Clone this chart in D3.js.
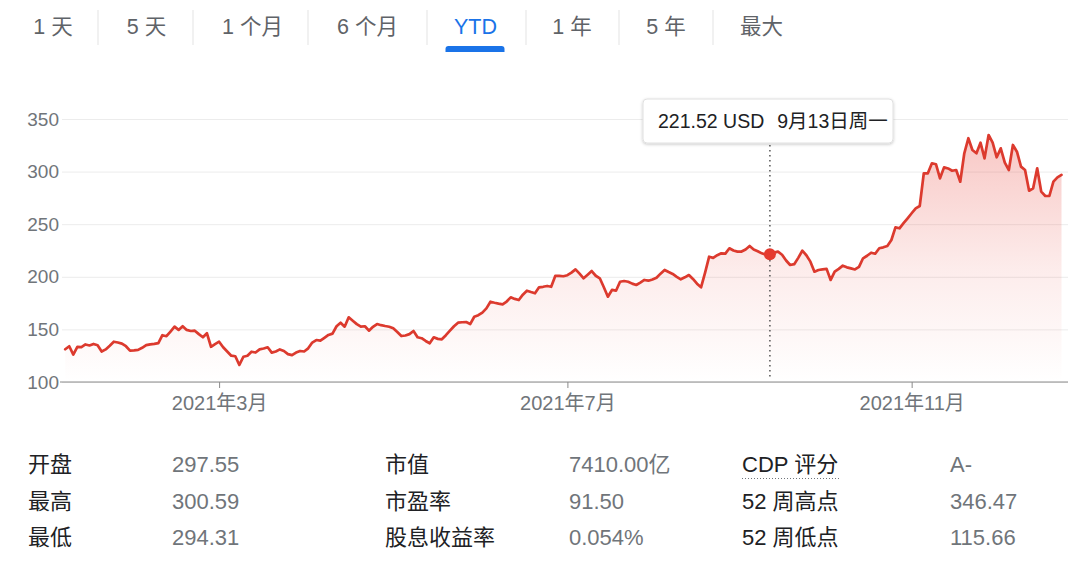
<!DOCTYPE html>
<html>
<head>
<meta charset="utf-8">
<script src="https://cdn.jsdelivr.net/npm/d3@7"></script>
<style>
  html, body { margin: 0; padding: 0; background: #fff; }
  svg { display: block; font-family: "Liberation Sans", Arial, "Noto Sans CJK SC", sans-serif; }
</style>
</head>
<body>
<svg id="chart" width="1080" height="569"></svg>
<script>
// ---------- DATA ----------
const tabs = ["1 天", "5 天", "1 个月", "6 个月", "YTD", "1 年", "5 年", "最大"];
const activeTab = "YTD";

const startDate = "2021-01-04";
const endDate = "2021-12-23";
const holidays = ["2021-01-18", "2021-02-15", "2021-04-02", "2021-05-31", "2021-07-05", "2021-09-06", "2021-11-25"];

// daily close (USD), one per trading day
const closes = [
  131.1, 134.0, 126.1, 133.4, 133.2, 135.7, 134.7, 136.2, 135.0, 129.0,
  131.0, 134.5, 138.3, 137.5, 136.5, 134.0, 129.8, 130.0, 130.5, 132.5,
  135.0, 135.8, 136.2, 137.0, 144.5, 143.5, 148.0, 152.6, 149.5, 153.0,
  149.5, 148.5, 148.8, 145.5, 142.5, 146.3, 133.5, 136.0, 138.3, 133.0,
  129.0, 125.0, 124.5, 116.2, 124.0, 125.0, 128.8, 128.0, 131.0, 131.8,
  133.0, 127.9, 129.0, 131.0, 129.5, 126.5, 125.5, 128.0, 129.5, 129.0,
  132.0, 137.5, 139.9, 139.3, 142.0, 144.7, 146.0, 153.0, 156.4, 152.6,
  161.5, 158.3, 155.0, 152.6, 153.0, 148.8, 152.5, 155.1, 154.0, 153.2,
  152.5, 151.0, 147.5, 143.7, 144.2, 145.5, 148.5, 142.5, 141.6, 139.0,
  136.8, 142.5, 141.0, 140.6, 144.5, 148.8, 153.0, 156.4, 156.8, 157.0,
  155.1, 162.0, 163.5, 166.0, 170.0, 176.3, 175.3, 174.5, 173.8, 176.5,
  180.5, 179.0, 177.9, 183.0, 186.8, 185.5, 184.3, 190.0, 190.5, 191.3,
  190.5, 200.8, 200.8, 200.5, 201.5, 204.0, 207.1, 203.0, 198.6, 202.0,
  205.5, 201.0, 198.6, 190.0, 181.1, 187.5, 186.8, 195.3, 196.0, 195.3,
  193.5, 192.2, 194.5, 197.0, 196.3, 197.5, 199.1, 203.0, 206.5, 204.5,
  202.7, 200.0, 197.6, 199.5, 201.7, 198.0, 193.5, 190.0, 204.0, 219.1,
  218.0, 220.5, 222.3, 222.0, 227.1, 225.0, 223.9, 224.0, 226.0, 229.3,
  226.0, 224.3, 222.3, 221.0, 221.52, 223.0, 223.9, 221.0, 215.5, 211.2,
  212.0, 218.0, 224.8, 220.5, 214.4, 204.9, 206.5, 207.1, 207.5, 197.0,
  204.9, 207.5, 210.6, 209.0, 208.0, 207.0, 209.5, 217.6, 220.0, 222.9,
  221.9, 227.1, 228.0, 229.3, 235.0, 247.0, 246.1, 251.0, 255.6, 260.4,
  265.1, 267.3, 298.4, 298.4, 307.9, 307.0, 293.6, 304.0, 303.0, 300.8,
  301.5, 290.4, 317.4, 331.7, 320.5, 317.4, 327.5, 312.6, 334.8, 327.5,
  313.6, 322.1, 308.5, 301.5, 325.3, 318.9, 304.7, 301.5, 281.8, 284.1,
  303.1, 280.9, 276.8, 276.8, 290.4, 294.5, 296.8
];

const yTicks = [100, 150, 200, 250, 300, 350];
const xTickDates = ["2021-03-01", "2021-07-01", "2021-11-01"];
const xTickLabels = ["2021年3月", "2021年7月", "2021年11月"];

const hoverDate = "2021-09-13";
const hoverDateLabel = "9月13日周一";
const currency = "USD";

const statLabels1 = ["开盘", "最高", "最低"];
const statValues1 = ["297.55", "300.59", "294.31"];
const statLabels2 = ["市值", "市盈率", "股息收益率"];
const statValues2 = ["7410.00亿", "91.50", "0.054%"];
const statLabels3 = ["CDP 评分", "52 周高点", "52 周低点"];
const statValues3 = ["A-", "346.47", "115.66"];

// ---------- BUILD TRADING CALENDAR ----------
const fmt = d3.timeFormat("%Y-%m-%d");
const parse = d3.timeParse("%Y-%m-%d");
const tradingDays = d3.timeDay.range(parse(startDate), d3.timeDay.offset(parse(endDate), 1))
  .filter(d => d.getDay() !== 0 && d.getDay() !== 6 && !holidays.includes(fmt(d)))
  .map(fmt);
const data = tradingDays.map((d, i) => ({ date: d, value: closes[i] })).filter(d => d.value != null);

// ---------- LAYOUT ----------
const svg = d3.select("#chart");
const plotLeft = 62, plotRight = 1068;
const lineLeft = 65.2, lineRight = 1061.5;
const yTop = 119, yBottom = 382;

const x = d3.scalePoint().domain(data.map(d => d.date)).range([lineLeft, lineRight]);
const y = d3.scaleLinear().domain([100, 350]).range([yBottom, yTop]);

// ---------- TABS ----------
const tabCenters = [53, 146.5, 252.5, 367.5, 475.5, 572, 666, 761.5];
const sepX = [98, 193, 308, 427, 526, 619, 713];
const tabG = svg.append("g");
tabG.selectAll("text").data(tabs).join("text")
  .attr("x", (d, i) => tabCenters[i])
  .attr("y", 34)
  .attr("text-anchor", "middle")
  .attr("font-size", 21.5)
  .attr("fill", d => d === activeTab ? "#1a73e8" : "#5f6368")
  .text(d => d);
tabG.selectAll("line").data(sepX).join("line")
  .attr("x1", d => d).attr("x2", d => d)
  .attr("y1", 10).attr("y2", 45)
  .attr("stroke", "#e3e3e3").attr("stroke-width", 1);
const ai = tabs.indexOf(activeTab);
const ux0 = tabCenters[ai] - 30, ux1 = tabCenters[ai] + 29, uy0 = 46, uy1 = 52, r = 3;
tabG.append("path")
  .attr("d", `M${ux0},${uy1} L${ux0},${uy0 + r} Q${ux0},${uy0} ${ux0 + r},${uy0} L${ux1 - r},${uy0} Q${ux1},${uy0} ${ux1},${uy0 + r} L${ux1},${uy1} Z`)
  .attr("fill", "#1a73e8");

// ---------- GRADIENT ----------
const defs = svg.append("defs");
const grad = defs.append("linearGradient")
  .attr("id", "areaGrad").attr("gradientUnits", "userSpaceOnUse")
  .attr("x1", 0).attr("x2", 0).attr("y1", y(335)).attr("y2", yBottom);
grad.append("stop").attr("offset", "0%").attr("stop-color", "#e8453c").attr("stop-opacity", 0.30);
grad.append("stop").attr("offset", "55%").attr("stop-color", "#e8453c").attr("stop-opacity", 0.10);
grad.append("stop").attr("offset", "100%").attr("stop-color", "#e8453c").attr("stop-opacity", 0.0);

const shadow = defs.append("filter").attr("id", "shadow").attr("x", "-10%").attr("y", "-30%").attr("width", "120%").attr("height", "170%");
shadow.append("feDropShadow").attr("dx", 0).attr("dy", 1).attr("stdDeviation", 1.5).attr("flood-color", "#000").attr("flood-opacity", 0.22);

// ---------- GRID + Y AXIS ----------
const yAxis = d3.axisLeft(y).tickValues(yTicks).tickSize(-(plotRight - plotLeft)).tickPadding(3);
const yg = svg.append("g").attr("transform", `translate(${plotLeft},0)`).call(yAxis);
yg.select(".domain").remove();
yg.selectAll(".tick line").attr("stroke", "#ececec").attr("stroke-width", 1);
yg.selectAll(".tick text").attr("fill", "#70757a").attr("font-size", 19)
  .attr("font-family", "\"Liberation Sans\", Arial, sans-serif");

// ---------- AREA + LINE ----------
const area = d3.area().x(d => x(d.date)).y0(yBottom).y1(d => y(d.value));
svg.append("path").datum(data).attr("d", area).attr("fill", "url(#areaGrad)");

const line = d3.line().x(d => x(d.date)).y(d => y(d.value));
svg.append("path").datum(data).attr("d", line)
  .attr("fill", "none").attr("stroke", "#dc3a2e").attr("stroke-width", 2.7)
  .attr("stroke-linejoin", "round").attr("stroke-linecap", "round");

// ---------- X AXIS ----------
svg.append("line").attr("x1", 60).attr("x2", plotRight).attr("y1", yBottom).attr("y2", yBottom)
  .attr("stroke", "#8a8a8a").attr("stroke-width", 1);
const xAxis = d3.axisBottom(x).tickValues(xTickDates)
  .tickFormat(d => xTickLabels[xTickDates.indexOf(d)]).tickSize(6).tickPadding(8);
const xg = svg.append("g").attr("transform", `translate(0,${yBottom})`).call(xAxis);
xg.select(".domain").remove();
xg.selectAll(".tick line").attr("stroke", "#8a8a8a");
xg.selectAll(".tick text").attr("fill", "#70757a").attr("font-size", 20)
  .attr("font-family", "\"Liberation Sans\", Arial, \"Noto Sans CJK SC\", sans-serif");

// ---------- HOVER ----------
const hv = data.find(d => d.date === hoverDate);
const hx = x(hv.date), hy = y(hv.value);
svg.append("line").attr("x1", hx).attr("x2", hx).attr("y1", 145).attr("y2", yBottom - 2)
  .attr("stroke", "#555").attr("stroke-width", 1.5).attr("stroke-dasharray", "1.5,3.5");
svg.append("circle").attr("cx", hx).attr("cy", hy).attr("r", 6).attr("fill", "#e53a2f");

const tipG = svg.append("g");
tipG.append("rect").attr("x", 643).attr("y", 99).attr("width", 250).attr("height", 44).attr("rx", 4)
  .attr("fill", "#fff").attr("stroke", "#e0e0e0").attr("stroke-width", 1).attr("filter", "url(#shadow)");
const tipText = tipG.append("text").attr("x", 658).attr("y", 127.5).attr("font-size", 19.5).attr("fill", "#202124");
tipText.append("tspan").text(d3.format(".2f")(hv.value) + " " + currency);
tipText.append("tspan").attr("dx", 13).text(hoverDateLabel);

// ---------- STATS TABLE ----------
const rowsY = [472, 509, 545];
const cols = [
  { x: 28, items: statLabels1, fill: "#202124" },
  { x: 172, items: statValues1, fill: "#70757a" },
  { x: 385, items: statLabels2, fill: "#202124" },
  { x: 569, items: statValues2, fill: "#70757a" },
  { x: 742, items: statLabels3, fill: "#202124" },
  { x: 950, items: statValues3, fill: "#70757a" }
];
cols.forEach(c => {
  svg.append("g").selectAll("text").data(c.items).join("text")
    .attr("x", c.x).attr("y", (d, i) => rowsY[i])
    .attr("font-size", 22).attr("fill", c.fill)
    .text(d => d);
});
// dotted underline under CDP label
svg.append("line").attr("x1", 742).attr("x2", 840).attr("y1", 478.5).attr("y2", 478.5)
  .attr("stroke", "#70757a").attr("stroke-width", 1).attr("stroke-dasharray", "1,2");
</script>
</body>
</html>
